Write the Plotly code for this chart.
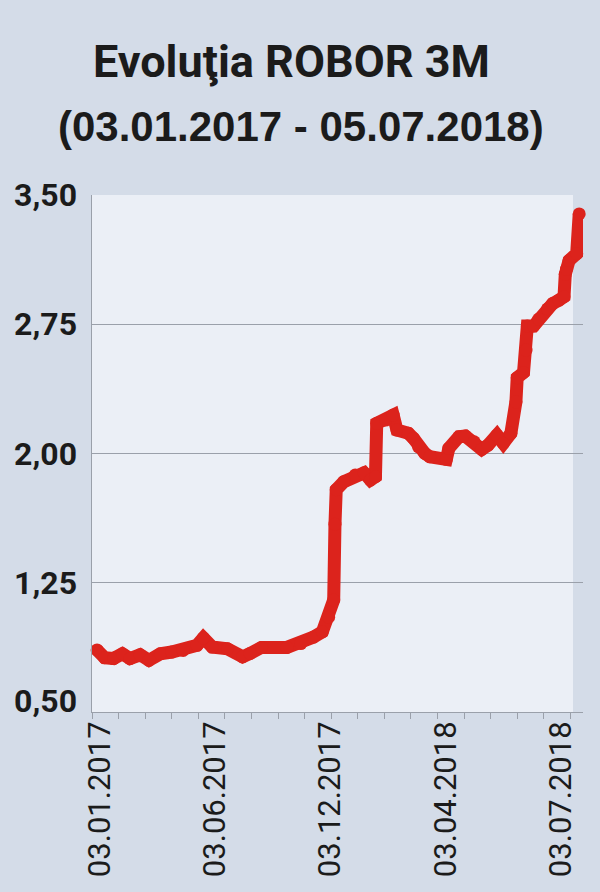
import plotly.graph_objects as go

# ---------------- data ----------------
obs_index = [4, 10, 17, 24, 30, 38, 45, 54, 63, 72,
             83, 88, 95, 107, 119, 125, 134, 154, 165, 175,
             182, 187, 191, 192, 193, 199, 208, 215, 220, 224,
             225, 232, 238, 241, 250, 254, 258, 263, 267, 280,
             282, 290, 295, 302, 308, 313, 320, 325, 331, 335,
             336, 341, 343, 344, 349, 353, 360, 364, 369, 373,
             374, 375, 377, 383, 385]
robor_3m = [0.86, 0.815, 0.81, 0.838, 0.81, 0.832, 0.80, 0.838, 0.848, 0.857,
            0.887, 0.93, 0.877, 0.867, 0.82, 0.84, 0.875, 0.875, 0.897, 0.935,
            0.965, 1.05, 1.15, 1.59, 1.79, 1.836, 1.875, 1.888, 1.846, 1.865,
            2.175, 2.194, 2.223, 2.136, 2.117, 2.088, 2.039, 2.001, 1.981, 1.966,
            2.03, 2.097, 2.101, 2.068, 2.024, 2.049, 2.107, 2.059, 2.117, 2.30,
            2.44, 2.47, 2.60, 2.74, 2.74, 2.78, 2.84, 2.87, 2.89, 2.91,
            3.04, 3.07, 3.12, 3.16, 3.39]

x_label_obs = [0, 91, 182, 273, 364]
x_label_text = ["03.01.2017", "03.06.2017", "03.12.2017", "03.04.2018", "03.07.2018"]
x_tick_step = 21

y_tick_vals = [0.5, 1.25, 2.0, 2.75, 3.5]
y_tick_text = ["0,50", "1,25", "2,00", "2,75", "3,50"]

title_text = "Evoluţia ROBOR 3M"
subtitle_text = "(03.01.2017 - 05.07.2018)"

# ---------------- layout geometry ----------------
W, H = 600, 892
M_L, M_R, M_T, M_B = 91.7, 17.3, 195.3, 180.3
X_MAX = 388
plot_w = W - M_L - M_R
plot_h = H - M_T - M_B
px_per_obs = plot_w / X_MAX
label_shift_obs = 8 / px_per_obs          # labels sit ~8 px right of their anchor
bg_right_obs = (572.7 - M_L) / px_per_obs  # light panel ends before the grid lines
y_per_px = 3.0 / plot_h
bottom_label_nudge = 11.5 * y_per_px       # the "0,50" label sits above the axis


def paper_y(py):
    return (H - M_B - py) / plot_h


def paper_x(px):
    return (px - M_L) / plot_w


PAPER = "#d4dce8"
PANEL = "#ebeff6"
GRID = "#9aa0aa"
RED = "#dc231c"
INK = "#1b1b1b"
CONDENSED = "Roboto, Liberation Sans, sans-serif"

fig = go.Figure()
fig.add_trace(go.Scatter(
    x=obs_index, y=robor_3m, mode="lines+markers",
    line=dict(color=RED, width=13),
    marker=dict(color=RED, size=13),
    cliponaxis=False, hoverinfo="skip", showlegend=False,
))
# empty trace to host the label axis
fig.add_trace(go.Scatter(x=[], y=[], yaxis="y2", showlegend=False, hoverinfo="skip"))

fig.add_shape(type="rect", xref="x", yref="y domain", x0=0, x1=bg_right_obs,
              y0=0, y1=1, fillcolor=PANEL, line=dict(width=0), layer="below")

fig.add_annotation(text=title_text, xref="paper", yref="paper",
                   x=paper_x(291.5), y=paper_y(62), xanchor="center", yanchor="middle",
                   showarrow=False,
                   font=dict(family=CONDENSED, size=45, color=INK, weight="bold"))
fig.add_annotation(text=subtitle_text, xref="paper", yref="paper",
                   x=paper_x(300.5), y=paper_y(126.5), xanchor="center", yanchor="middle",
                   showarrow=False,
                   font=dict(family="Liberation Sans, Arial, sans-serif", size=42,
                             color=INK, weight="bold"))

fig.update_layout(
    width=W, height=H,
    margin=dict(l=M_L, r=M_R, t=M_T, b=M_B, autoexpand=False),
    paper_bgcolor=PAPER, plot_bgcolor=PAPER,
    xaxis=dict(
        range=[0, X_MAX], showgrid=False, zeroline=False,
        showline=True, linecolor=GRID, linewidth=1,
        tickmode="array",
        tickvals=[v + label_shift_obs for v in x_label_obs],
        ticktext=x_label_text, tickangle=-90, ticks="",
        ticklabelstandoff=-4,
        tickfont=dict(family=CONDENSED, size=31, color=INK),
        minor=dict(tick0=0, dtick=x_tick_step, ticks="outside", ticklen=6,
                   tickcolor=GRID, tickwidth=1, showgrid=False),
        automargin=False, fixedrange=True,
    ),
    yaxis=dict(
        range=[0.5, 3.5], tickmode="array", tickvals=y_tick_vals,
        showticklabels=False, ticks="",
        showgrid=True, gridcolor=GRID, gridwidth=1, zeroline=False,
        showline=True, linecolor=GRID, linewidth=1,
        automargin=False, fixedrange=True,
    ),
    yaxis2=dict(
        overlaying="y", side="left", anchor="x",
        range=[0.5, 3.5], tickmode="array",
        tickvals=[y_tick_vals[0] + bottom_label_nudge] + y_tick_vals[1:],
        ticktext=y_tick_text, ticks="", showgrid=False, zeroline=False,
        showline=False, ticklabelstandoff=14,
        tickfont=dict(family=CONDENSED, size=32, color=INK, weight="bold"),
        automargin=False, fixedrange=True,
    ),
)

fig.write_html("out.html",
               config={"displayModeBar": False, "staticPlot": True},
               post_script="document.body.style.margin='0px';"
                           "document.body.style.overflow='hidden';")
